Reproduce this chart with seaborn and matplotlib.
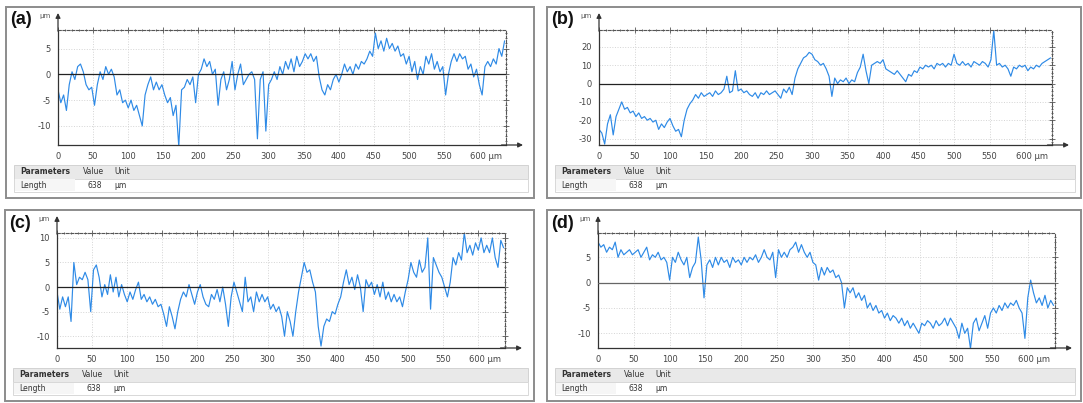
import numpy as np
import pandas as pd
import matplotlib
matplotlib.use("Agg")
import matplotlib.pyplot as plt
import seaborn as sns
from matplotlib.patches import Rectangle
from matplotlib.ticker import MultipleLocator
from matplotlib.transforms import ScaledTranslation

# ---------------- data (surface profile height, µm, sampled every 4 µm) ----------------
STEP_UM = 4
LENGTH_UM = 638

profile_a = [
    -3, -5.5, -4, -7, -2, 0.5, -1, 1.5, 2, 0.5,
    -2, -3, -2.5, -6, -2, 0.5, -1, 1.5, 0, 1,
    -0.5, -4, -3, -5.5, -5, -6.5, -5, -7, -6, -8,
    -10, -4, -2, -0.5, -3, -1.5, -3, -2, -4, -5.5,
    -4.5, -8, -6, -14, -3, -2.5, -1, -2, -0.5, -5.5,
    0, 1, 3, 1.5, 2.5, 0, 1, -6, -1, 0.5,
    -3, -1, 2.5, -3, 0, 2, -2, -1, 0, 0.5,
    -1, -12.5, -1, 0.5, -11, -2, -1, 0.5, -1, 1.5,
    0, 2.5, 1, 3, 0.5, 3.5, 1.5, 2.5, 4, 3,
    4, 2.5, 3.5, -0.5, -3, -4, -2, -3, -1, 0,
    -1.5, 0, 2, 0.5, 1.5, 0, 2, 1, 2.5, 2,
    3, 4.5, 3.5, 8, 5, 6.5, 4.5, 7, 5, 6,
    4.5, 5.5, 3.5, 4, 2, 3.5, 0.5, 2.5, -1, 1.5,
    0, 3.5, 2, 4, 1, 2.5, 0.5, 1.5, -4, 0,
    2.5, 4, 2.5, 4, 3, 3.5, 1, 2, -0.5, 1,
    -2, -4, 1.5, 2.5, 1.5, 3, 2, 5, 3.5, 6.5,
]

profile_b = [
    -25, -27, -33, -22, -17, -28, -18, -14, -10, -14,
    -13, -16, -15, -18, -16, -19, -18, -20, -19, -21,
    -20, -25, -22, -24, -21, -19, -23, -26, -25, -29,
    -20, -14, -11, -9, -6, -8, -5, -7, -6, -5,
    -7, -4, -6, -5, -3, 4, -5, -4, 7, -4,
    -3, -5, -4, -6, -7, -5, -8, -5, -6, -4,
    -6, -5, -4, -6, -8, -3, -5, -2, -6, 3,
    8, 11, 14, 15, 17, 16, 13, 12, 10, 11,
    8, 4, -7, 3, 0, 2, 1, 3, 0, 2,
    1, 6, 9, 16, 7, 0, 10, 11, 12, 11,
    13, 8, 7, 6, 5, 7, 5, 3, 1, 5,
    4, 7, 6, 9, 8, 10, 9, 10, 8, 11,
    10, 11, 9, 11, 10, 16, 11, 10, 12, 10,
    11, 9, 12, 11, 10, 12, 11, 9, 13, 29,
    10, 11, 9, 10, 8, 4, 9, 8, 10, 9,
    10, 7, 9, 8, 10, 9, 11, 12, 13, 14,
]

profile_c = [
    -1, -4.5, -2, -4, -2, -7, 5, 0.5, 2, 1.5,
    3, 1.5, -5, 3.5, 4.5, 2, -2, 0.5, -1.5, 2.5,
    -1, 2, -2, 0.5, -1.5, -3, -1, -2.5, -0.5, 1,
    -2.5, -1.5, -3, -2, -3.5, -2.5, -4, -3.5, -5.5, -8,
    -4, -6, -8.5, -5, -2.5, -1, -2, 0.5, -1.5, -3.5,
    -1, 0.5, -2, -3.5, -4, -1.5, -2.5, -0.5, -3, 0,
    -3.5, -8, -2, 1, -1, -3, -5, 2, -3, -2,
    -5, -1, -3, -1.5, -3, -2, -4.5, -3.5, -5, -4,
    -6, -10, -5, -7, -10, -5, -1, 2, 5, 3,
    3.5, 1, -1, -8, -12, -8, -6.5, -7, -5, -5.5,
    -3.5, -2, 1, 3.5, 0.5, 2, -0.5, 2.5, 0, -5,
    1.5, 0, 1, -1.5, 0.5, -2, 1, -2.5, -1, -3,
    -1.5, -3, -2, -4, -1, 1.5, 5, 3, 2, 5.5,
    3, 4, 10, -4.5, 6, 4.5, 3, 2, 0, -2,
    1, 6, 4.5, 7, 5.5, 11, 7, 8.5, 6.5, 9,
    7.5, 10, 7, 8.5, 7, 10, 6, 4, 9.5, 8,
]

profile_d = [
    8, 7, 7.5, 6, 7, 6.5, 8, 5, 6.5, 5.5,
    6, 6.5, 5.5, 6, 6.5, 5, 6, 7, 4.5, 5.5,
    5, 6, 4.5, 5, 4, 0.5, 5, 4, 6, 4.5,
    3.5, 5, 1, 3, 4, 9, 4.5, -3, 3.5, 4.5,
    3, 5, 3.5, 5, 4, 4.5, 3, 5, 4, 4.5,
    3.5, 5, 4, 5, 4.5, 5.5, 4, 5, 6.5, 5,
    4.5, 6, 1, 6.5, 5, 6, 5, 6.5, 7, 8,
    6, 7.5, 6, 5, 6, 4, 3.5, 0.5, 3, 1.5,
    3, 2, 2.5, 1, 1.5, 0, -5, -1, -2, -1,
    -3, -2, -3.5, -2.5, -5, -4, -5.5, -4.5, -6, -5.5,
    -7, -6, -7.5, -6.5, -7, -8, -7, -8.5, -7.5, -9,
    -8, -9, -10, -8, -8.5, -7.5, -8, -9, -7.5, -8.5,
    -8, -7, -8.5, -7, -8, -9, -11, -8, -10, -9,
    -13, -8, -7, -9.5, -8, -6.5, -9, -6, -5, -6,
    -4.5, -5.5, -4, -5, -4, -4.5, -3.5, -5, -6, -11,
    -3, 0.5, -2, -4, -3, -4.5, -2.5, -5, -3.5, -4.5,
]

panel_labels = ["(a)", "(b)", "(c)", "(d)"]
x_ticks = [0, 50, 100, 150, 200, 250, 300, 350, 400, 450, 500, 550, 600]
x_tick_labels = ["0", "50", "100", "150", "200", "250", "300", "350", "400", "450",
                 "500", "550", "600 µm"]
y_ticks = [[-10, -5, 0, 5], [-30, -20, -10, 0, 10, 20], [-10, -5, 0, 5, 10], [-10, -5, 0, 5]]
y_limits = [(-13.7, 8.6), (-33.5, 29.2), (-12.4, 11.0), (-12.9, 9.8)]
y_minor = [1, 2, 1, 1]
table_header = ["Parameters", "Value", "Unit"]
table_row = ["Length", "638", "µm"]

# ---------------- layout (pixels, origin top-left) ----------------
W, H = 1083, 403
frames = [(6, 7, 534, 198), (547, 7, 1081, 198), (5, 210, 534, 401), (547, 210, 1081, 401)]
axes_px = [(58, 30, 506, 145), (599, 30, 1052, 145), (57, 233, 505, 348), (598, 233, 1055, 348)]
tables_px = [(14, 165, 528, 192), (555, 165, 1075, 192), (13, 368, 528, 395), (555, 368, 1075, 395)]
zero_colors = ["#222222", "#222222", "#222222", "#666666"]

sns.set_style("white")
plt.rcParams["font.family"] = ["DejaVu Sans"]

fig = plt.figure(figsize=(W / 100, H / 100), dpi=100)
fig.patch.set_facecolor("white")


def fx(px):
    return px / W


def fy(py):
    return 1 - py / H


line_color = "#2e8ae6"
profiles = [profile_a, profile_b, profile_c, profile_d]

for i, prof in enumerate(profiles):
    # outer frame
    x0, y0, x1, y1 = frames[i]
    fig.add_artist(Rectangle((fx(x0), fy(y1)), fx(x1 - x0), (y1 - y0) / H,
                             transform=fig.transFigure, fill=False,
                             ec="#8c8c8c", lw=1.4))
    # panel label
    fig.text(fx(x0 + 4), fy(y0 + 13), panel_labels[i], fontsize=13,
             fontweight="bold", ha="left", va="center", color="#111",
             family=["Liberation Sans", "DejaVu Sans"])

    ax0, ay0, ax1, ay1 = axes_px[i]
    ax = fig.add_axes([fx(ax0), fy(ay1), fx(ax1 - ax0), (ay1 - ay0) / H])
    ax.set_facecolor("white")
    df = pd.DataFrame({"x": np.arange(len(prof)) * STEP_UM, "z": prof})
    sns.lineplot(data=df, x="x", y="z", ax=ax, color=line_color, linewidth=0.85)
    ax.set_xlim(0, LENGTH_UM)
    ax.set_ylim(*y_limits[i])
    ax.axhline(0, color=zero_colors[i], lw=0.9, zorder=3)
    ax.set_xlabel("")
    ax.set_ylabel("")

    ax.set_xticks(x_ticks)
    ax.set_xticklabels(x_tick_labels)
    ax.set_yticks(y_ticks[i])
    ax.set_yticklabels([str(v) for v in y_ticks[i]])
    ax.xaxis.set_minor_locator(MultipleLocator(10))
    ax.yaxis.set_minor_locator(MultipleLocator(y_minor[i]))
    ax.tick_params(axis="both", which="both", direction="inout", top=True, right=True,
                   labelsize=6, labelcolor="#444444", color="#555555", width=0.6)
    ax.tick_params(axis="both", which="major", length=4, pad=3)
    ax.tick_params(axis="both", which="minor", length=2)
    ax.grid(True, which="major", color="#d4d4d4", linestyle=":", lw=0.7)
    # shift the "600 µm" label so that the number sits on its tick
    last = ax.get_xticklabels()[-1]
    last.set_transform(last.get_transform() + ScaledTranslation(4.8 / 72, 0, fig.dpi_scale_trans))

    for s in ["left", "bottom"]:
        ax.spines[s].set_color("#333333")
        ax.spines[s].set_linewidth(0.9)
    for s in ["top", "right"]:
        ax.spines[s].set_color("#555555")
        ax.spines[s].set_linewidth(0.8)
        ax.spines[s].set_linestyle((0, (2.5, 1.5)))

    # axis arrows
    xr = (ax1 + 17 - ax0) / (ax1 - ax0)
    ax.annotate("", xy=(xr, 0), xycoords="axes fraction", xytext=(0.99, 0),
                arrowprops=dict(arrowstyle="-|>", color="#333333", lw=0.9,
                                mutation_scale=7, shrinkA=0, shrinkB=0),
                annotation_clip=False)
    yr = 1 + 17 / (ay1 - ay0)
    ax.annotate("", xy=(0, yr), xycoords="axes fraction", xytext=(0, 0.99),
                arrowprops=dict(arrowstyle="-|>", color="#333333", lw=0.9,
                                mutation_scale=7, shrinkA=0, shrinkB=0),
                annotation_clip=False)
    # unit next to the y-axis arrow
    ax.text(-0.016, yr - 0.03, "µm", transform=ax.transAxes, fontsize=5,
            ha="right", va="center", color="#555555")

    # parameter table
    tx0, ty0, tx1, ty1 = tables_px[i]
    tmid = ty0 + (ty1 - ty0) / 2
    fig.add_artist(Rectangle((fx(tx0), fy(tmid)), fx(tx1 - tx0), (tmid - ty0) / H,
                             transform=fig.transFigure, fc="#e9e9e9", ec="#d2d2d2", lw=0.7))
    fig.add_artist(Rectangle((fx(tx0), fy(ty1)), fx(tx1 - tx0), (ty1 - tmid) / H,
                             transform=fig.transFigure, fc="white", ec="#d8d8d8", lw=0.7))
    fig.add_artist(Rectangle((fx(tx0 + 1), fy(ty1 - 1)), fx(60), (ty1 - tmid - 2) / H,
                             transform=fig.transFigure, fc="#f6f6f6", ec="none", lw=0))
    hy = fy((ty0 + tmid) / 2)
    ry = fy((tmid + ty1) / 2)
    fig.text(fx(tx0 + 6), hy, table_header[0], fontsize=5.5, fontweight="bold",
             ha="left", va="center", color="#333333")
    fig.text(fx(tx0 + 69), hy, table_header[1], fontsize=5.5, ha="left", va="center", color="#333333")
    fig.text(fx(tx0 + 100), hy, table_header[2], fontsize=5.5, ha="left", va="center", color="#333333")
    fig.text(fx(tx0 + 6), ry, table_row[0], fontsize=5.5, ha="left", va="center", color="#333333")
    fig.text(fx(tx0 + 88), ry, table_row[1], fontsize=5.5, ha="right", va="center", color="#333333")
    fig.text(fx(tx0 + 100), ry, table_row[2], fontsize=5.5, ha="left", va="center", color="#333333")

fig.savefig("out.png", dpi=100, facecolor="white")
